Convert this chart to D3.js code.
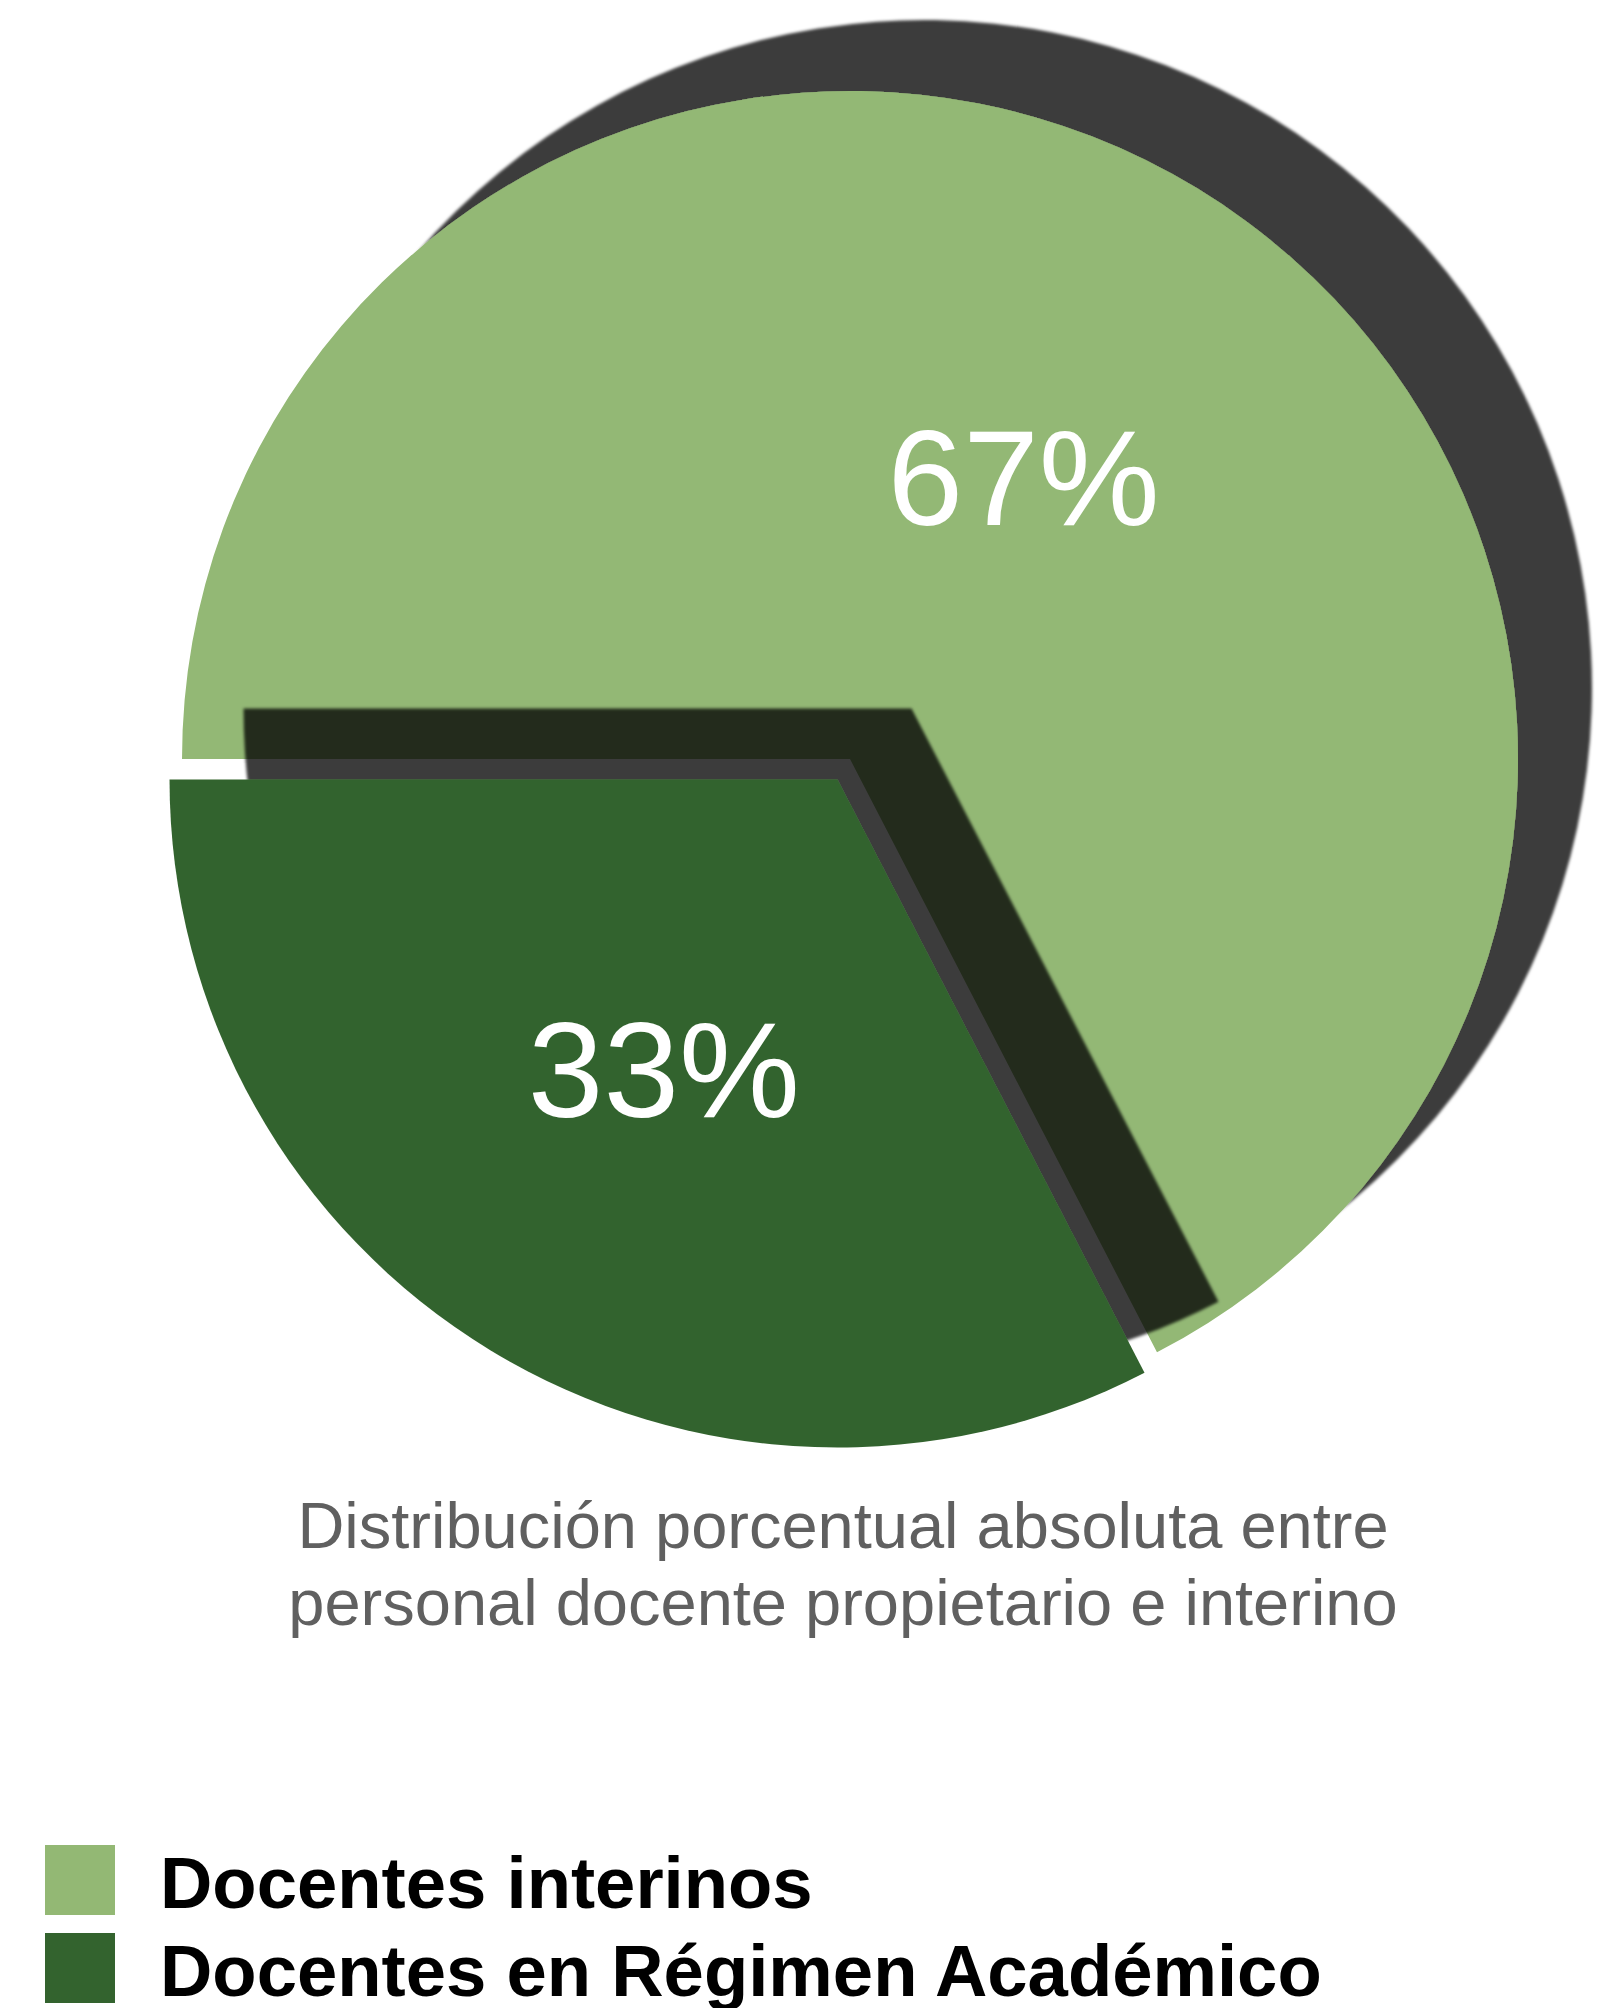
<!DOCTYPE html>
<html>
<head>
<meta charset="utf-8">
<script src="https://cdn.jsdelivr.net/npm/d3@7"></script>
<style>
  html, body { margin: 0; padding: 0; background: #ffffff; }
  svg { display: block; }
</style>
</head>
<body>
<svg id="chart" width="1619" height="2008"></svg>
<script>
// ---- data ----
const categories = ["Docentes interinos", "Docentes en Régimen Académico"];
const values = [67.4, 32.6];
const explodedSlices = [false, true];
const captionLines = ["Distribución porcentual absoluta entre", "personal docente propietario e interino"];
const colors = ["#93b874", "#33632e"];

// ---- layout ----
const W = 1619, H = 2008;
const cx = 850, cy = 759, R = 668;
const explode = 24;
const font = "'Liberation Sans', Arial, Helvetica, sans-serif";

const svg = d3.select("#chart");

const defs = svg.append("defs");
const filt = defs.append("filter")
  .attr("id", "shadow")
  .attr("x", "-20%").attr("y", "-20%")
  .attr("width", "140%").attr("height", "140%");
filt.append("feDropShadow")
  .attr("dx", 74).attr("dy", -71)
  .attr("stdDeviation", 1.6)
  .attr("flood-color", "#000")
  .attr("flood-opacity", 0.765);

const total = d3.sum(values);
const pie = d3.pie().sort(null)
  .startAngle(-Math.PI / 2)
  .endAngle(3 * Math.PI / 2);
const arcs = pie(values);
const arc = d3.arc().innerRadius(0).outerRadius(R);
const labelArc = d3.arc().innerRadius(R * 0.5).outerRadius(R * 0.5);

const offsetOf = (d, i) => {
  if (!explodedSlices[i]) return [0, 0];
  const a = (d.startAngle + d.endAngle) / 2;
  return [Math.sin(a) * explode, -Math.cos(a) * explode];
};

const slices = svg.append("g").selectAll("g.slice")
  .data(arcs)
  .join("g")
  .attr("class", "slice")
  .attr("transform", (d, i) => {
    const o = offsetOf(d, i);
    return `translate(${cx + o[0]},${cy + o[1]})`;
  });

slices.append("path")
  .attr("d", arc)
  .attr("fill", (d, i) => colors[i])
  .attr("filter", "url(#shadow)");

// labels on top
svg.append("g").selectAll("text")
  .data(arcs)
  .join("text")
  .attr("transform", (d, i) => {
    const o = offsetOf(d, i);
    const c = labelArc.centroid(d);
    return `translate(${cx + o[0] + c[0]},${cy + o[1] + c[1]})`;
  })
  .attr("text-anchor", "middle")
  .attr("dy", "0.38em")
  .attr("fill", "#ffffff")
  .style("font-family", font)
  .style("font-size", "136px")
  .text(d => Math.round(d.value / total * 100) + "%");

// caption
svg.append("g").selectAll("text")
  .data(captionLines)
  .join("text")
  .attr("x", 843)
  .attr("y", (d, i) => 1548 + i * 77)
  .attr("text-anchor", "middle")
  .attr("fill", "#606060")
  .style("font-family", font)
  .style("font-size", "65px")
  .text(d => d);

// legend
const leg = svg.append("g").selectAll("g")
  .data(categories)
  .join("g")
  .attr("transform", (d, i) => `translate(45,${1845 + i * 88})`);
leg.append("rect")
  .attr("width", 70).attr("height", 70)
  .attr("fill", (d, i) => colors[i]);
leg.append("text")
  .attr("x", 115)
  .attr("y", 63)
  .attr("fill", "#000")
  .style("font-family", font)
  .style("font-weight", "bold")
  .style("font-size", "72.5px")
  .text(d => d);
</script>
</body>
</html>
